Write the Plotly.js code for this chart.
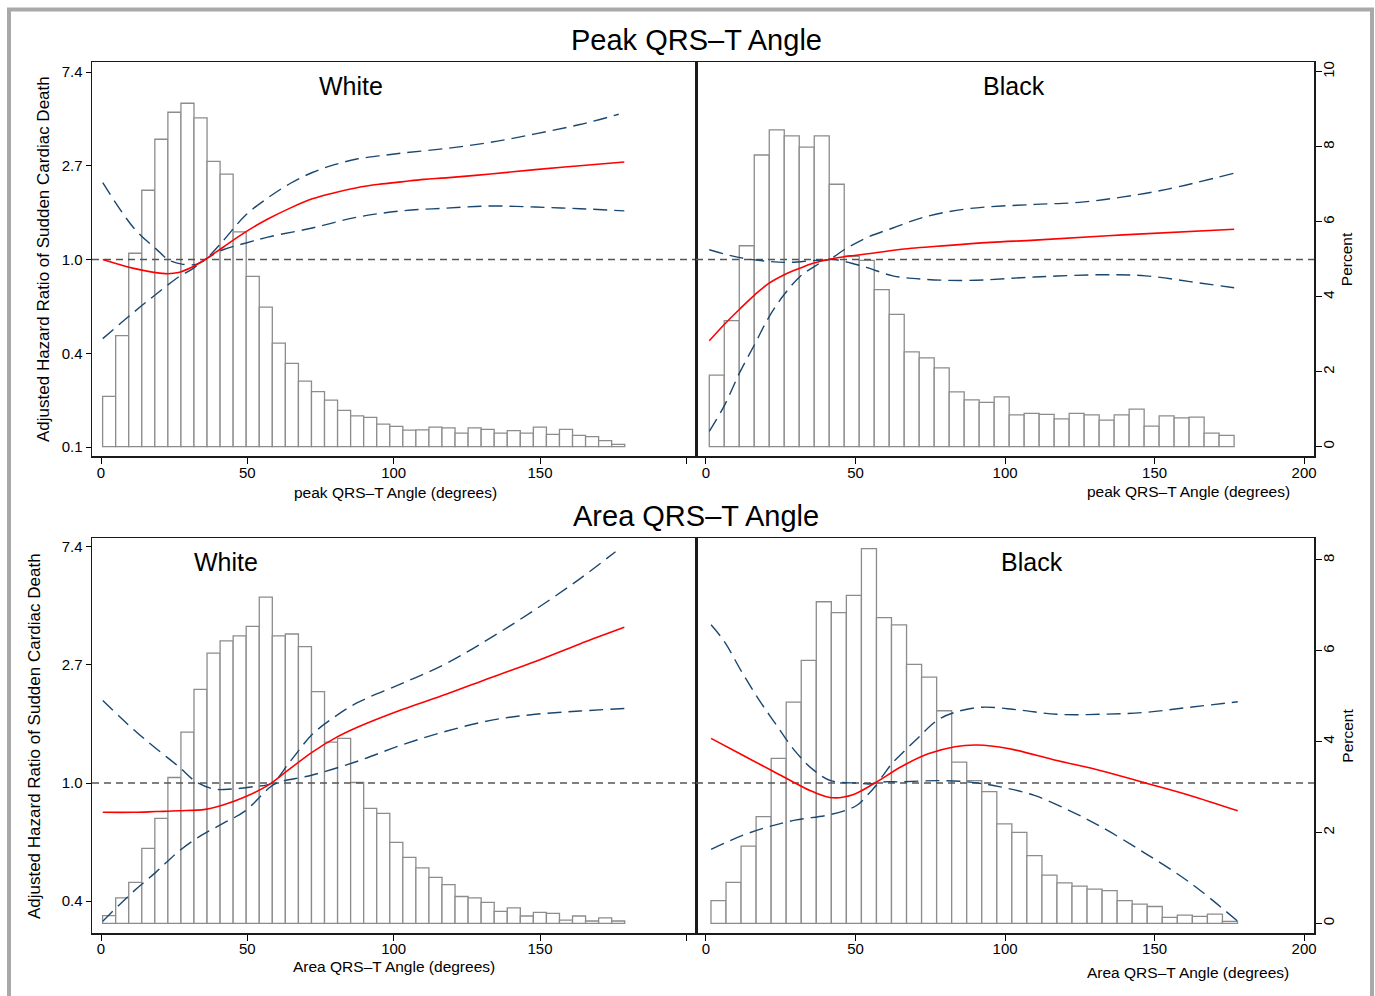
<!DOCTYPE html>
<html>
<head>
<meta charset="utf-8">
<script src="https://cdn.plot.ly/plotly-3.0.1.min.js"></script>
<style>html,body{margin:0;padding:0;background:#fff}#chart{width:1375px;height:996px}</style>
</head>
<body>
<div id="chart"></div>
<script>
// ================= DATA =================
// Hazard-ratio axis ticks (e^-2 .. e^2)
const hrTickExp = [-2, -1, 0, 1, 2];
const hrTickText = ['0.1', '0.4', '1.0', '2.7', '7.4'];
const refHR = 1;

// ---------- Peak QRS-T angle, White ----------
const peakWhiteBinStart = 0.55, peakWhiteBinWidth = 4.46;
const peakWhitePct = [1.34, 2.96, 5.16, 6.84, 8.2, 8.92, 9.16, 8.77, 7.61, 7.27,
  5.73, 4.54, 3.72, 2.76, 2.22, 1.75, 1.47, 1.24, 0.97, 0.82,
  0.78, 0.6, 0.54, 0.44, 0.45, 0.52, 0.5, 0.36, 0.5, 0.46,
  0.36, 0.43, 0.36, 0.52, 0.33, 0.46, 0.30, 0.27, 0.16, 0.06];
const peakWhiteHrX = [0.6, 11.2, 21.9, 26.5, 31, 35.6, 41.7, 49.3, 57, 64.6, 72.2, 79.8, 87.4, 95, 102.7, 110.3, 117.9, 133.1, 148.4, 163.6, 178.8];
const peakWhiteHr  = [1.00, 0.91, 0.86, 0.87, 0.92, 1.00, 1.14, 1.34, 1.54, 1.73, 1.91, 2.04, 2.15, 2.23, 2.29, 2.35, 2.39, 2.49, 2.61, 2.72, 2.83];
const peakWhiteUpX = [0.6, 11.2, 18.8, 23.4, 28, 32.5, 35.6, 41.7, 49.3, 57, 64.6, 72.2, 79.8, 87.4, 95, 102.7, 117.9, 133.1, 148.4, 163.6, 176.9];
const peakWhiteUp  = [2.27, 1.40, 1.12, 0.99, 0.95, 0.95, 1.00, 1.22, 1.60, 1.93, 2.25, 2.53, 2.75, 2.92, 3.02, 3.11, 3.27, 3.49, 3.82, 4.22, 4.71];
const peakWhiteLoX = [0.6, 11.2, 18.8, 26.5, 31, 35.6, 41.7, 49.3, 57, 72.2, 87.4, 102.7, 117.9, 133.1, 148.4, 163.6, 178.8];
const peakWhiteLo  = [0.43, 0.57, 0.69, 0.83, 0.90, 1.00, 1.11, 1.19, 1.27, 1.40, 1.57, 1.68, 1.73, 1.77, 1.75, 1.72, 1.68];

// ---------- Peak QRS-T angle, Black ----------
const peakBlackBinStart = 1.1, peakBlackBinWidth = 5.014;
const peakBlackPct = [1.91, 3.36, 5.36, 7.78, 8.45, 8.29, 7.99, 8.29, 7.0, 5.08,
  4.97, 4.19, 3.53, 2.53, 2.37, 2.1, 1.46, 1.25, 1.18, 1.33,
  0.85, 0.89, 0.86, 0.74, 0.89, 0.85, 0.71, 0.85, 1.0, 0.55,
  0.82, 0.77, 0.79, 0.36, 0.3];
const peakBlackHrX = [1.1, 6.1, 11.3, 16.5, 21, 26.2, 31.3, 35.8, 41, 46.2, 58, 65.4, 80.3, 95.1, 110, 139.5, 176.6];
const peakBlackHr  = [0.42, 0.50, 0.59, 0.69, 0.775, 0.85, 0.91, 0.96, 1.00, 1.03, 1.08, 1.115, 1.16, 1.20, 1.23, 1.30, 1.38];
const peakBlackUpX = [1.1, 11.3, 21, 28, 35.8, 41, 46.2, 53.6, 62.5, 72.8, 87.7, 110, 124.8, 139.5, 154.4, 176.6];
const peakBlackUp  = [1.11, 1.02, 0.98, 0.97, 0.99, 1.00, 1.11, 1.26, 1.40, 1.57, 1.72, 1.80, 1.84, 1.95, 2.12, 2.51];
const peakBlackLoX = [1.1, 6.1, 11.3, 16.5, 21, 26.2, 31.3, 35.8, 41, 46.2, 53.6, 62.5, 72.8, 87.7, 110, 132.2, 147, 161.8, 176.6];
const peakBlackLo  = [0.16, 0.21, 0.30, 0.41, 0.54, 0.69, 0.83, 0.92, 1.00, 0.98, 0.92, 0.84, 0.81, 0.80, 0.83, 0.85, 0.84, 0.79, 0.74];

// ---------- Area QRS-T angle, White ----------
const areaWhiteBinStart = 0.55, areaWhiteBinWidth = 4.46;
const areaWhitePct = [0.17, 0.56, 0.9, 1.65, 2.31, 3.21, 4.21, 5.15, 5.95, 6.22,
  6.33, 6.54, 7.18, 6.33, 6.37, 6.09, 5.1, 3.99, 4.07, 3.1,
  2.53, 2.42, 1.78, 1.45, 1.22, 1.01, 0.85, 0.59, 0.56, 0.46,
  0.26, 0.34, 0.16, 0.24, 0.22, 0.07, 0.16, 0.05, 0.12, 0.05];
const areaWhiteHrX = [0.6, 11.2, 18.8, 26.5, 35.6, 41.7, 49.3, 57, 64.6, 72.2, 79.8, 87.4, 102.7, 117.9, 133.1, 148.4, 163.6, 178.8];
const areaWhiteHr  = [0.78, 0.78, 0.785, 0.79, 0.80, 0.83, 0.89, 0.98, 1.13, 1.30, 1.46, 1.60, 1.86, 2.12, 2.44, 2.80, 3.25, 3.74];
const areaWhiteUpX = [0.6, 11.2, 18.8, 26.5, 32.5, 38.6, 44.7, 52.3, 58.5, 64.6, 72.2, 79.8, 87.4, 102.7, 117.9, 133.1, 148.4, 163.6, 175.8];
const areaWhiteUp  = [2.01, 1.57, 1.34, 1.15, 1.01, 0.95, 0.95, 0.97, 1.00, 1.20, 1.51, 1.75, 1.97, 2.32, 2.75, 3.42, 4.35, 5.64, 7.10];
const areaWhiteLoX = [0.6, 11.2, 18.8, 26.5, 34.1, 41.7, 49.3, 57, 60, 72.2, 87.4, 102.7, 117.9, 133.1, 148.4, 163.6, 178.8];
const areaWhiteLo  = [0.31, 0.40, 0.47, 0.56, 0.64, 0.71, 0.79, 0.95, 1.00, 1.07, 1.20, 1.38, 1.55, 1.70, 1.79, 1.84, 1.88];

// ---------- Area QRS-T angle, Black ----------
const areaBlackBinStart = 1.67, areaBlackBinWidth = 5.03;
const areaBlackPct = [0.5, 0.9, 1.7, 2.35, 3.63, 4.87, 5.79, 7.08, 6.84, 7.22,
  8.25, 6.73, 6.57, 5.7, 5.42, 4.68, 3.55, 3.14, 2.9, 2.19,
  2.0, 1.49, 1.06, 0.89, 0.82, 0.75, 0.72, 0.5, 0.42, 0.37,
  0.13, 0.18, 0.15, 0.2, 0.04];
const areaBlackHrX = [1.7, 12, 22.4, 29.8, 35.8, 42.5, 49.1, 56.5, 65.4, 74.3, 83.2, 90.6, 101, 117.3, 132.1, 147, 161.8, 177.8];
const areaBlackHr  = [1.46, 1.27, 1.105, 1.00, 0.928, 0.882, 0.905, 1.00, 1.15, 1.28, 1.36, 1.38, 1.34, 1.21, 1.11, 1.00, 0.90, 0.79];
const areaBlackUpX = [1.7, 6.1, 12, 17.9, 23.8, 29.8, 35.8, 41.7, 50.6, 56.5, 62.5, 69.9, 77.3, 83.2, 92.1, 104, 117.3, 132.1, 147, 161.8, 177.8];
const areaBlackUp  = [3.82, 3.32, 2.56, 2.01, 1.62, 1.31, 1.12, 1.02, 1.00, 1.00, 1.19, 1.43, 1.70, 1.82, 1.90, 1.86, 1.79, 1.79, 1.82, 1.90, 1.99];
const areaBlackLoX = [1.7, 12, 20.9, 29.8, 40.2, 46.2, 50.6, 55.1, 58, 65.4, 77.3, 87.6, 98, 109.8, 121.7, 132.1, 147, 161.8, 177.8];
const areaBlackLo  = [0.57, 0.64, 0.69, 0.73, 0.76, 0.79, 0.83, 0.93, 1.00, 1.01, 1.02, 1.01, 0.97, 0.90, 0.79, 0.69, 0.55, 0.43, 0.31];

const xTickVals = [0, 50, 100, 150, 200];

// ================= STYLE / LAYOUT =================
const W = 1375, H = 996;
const FONT = 'Liberation Sans, Arial, Helvetica, sans-serif';
const px = v => v / W;
const py = v => 1 - v / H;

const domLeft  = [px(92), px(696)];
const domRight = [px(696), px(1314)];
const domTop   = [py(456), py(62)];
const domBot   = [py(933), py(538)];

const xRangeL = [-3.08, 203.3];
const xRangeR = [-3.34, 203.3];
const pctRangeTop = [-0.248, 10.26];
const pctRangeBot = [-0.214, 8.484];
const lnTop = [-2.096, 2.107];
const lnBot = [-1.271, 2.076];
const log10Range = r => r.map(v => v / Math.LN10);

const barStyle = {color: '#ffffff', line: {color: '#8c8c8c', width: 1.3}};
const redLine = {color: '#ff0000', width: 1.6, shape: 'spline', smoothing: 1};
const ciLine  = {color: '#1a476f', width: 1.4, dash: '14px,7px', shape: 'spline', smoothing: 1};
const refLine = {color: '#555555', width: 1.6, dash: '7px,5px'};

function centers(start, width, n) {
  return Array.from({length: n}, (_, i) => start + width * (i + 0.5));
}

function panelTraces(xa, ya_pct, ya_hr, xr, bs, bw, pct, hrX, hr, upX, up, loX, lo) {
  return [
    {type: 'bar', x: centers(bs, bw, pct.length), y: pct, width: bw, xaxis: xa, yaxis: ya_pct,
     marker: barStyle, hoverinfo: 'skip'},
    {type: 'scatter', mode: 'lines', x: xr, y: [refHR, refHR], xaxis: xa, yaxis: ya_hr, line: refLine, hoverinfo: 'skip'},
    {type: 'scatter', mode: 'lines', x: upX, y: up, xaxis: xa, yaxis: ya_hr, line: ciLine},
    {type: 'scatter', mode: 'lines', x: loX, y: lo, xaxis: xa, yaxis: ya_hr, line: ciLine},
    {type: 'scatter', mode: 'lines', x: hrX, y: hr, xaxis: xa, yaxis: ya_hr, line: redLine}
  ];
}

const traces = [].concat(
  panelTraces('x',  'y',  'y2', xRangeL, peakWhiteBinStart, peakWhiteBinWidth, peakWhitePct,
              peakWhiteHrX, peakWhiteHr, peakWhiteUpX, peakWhiteUp, peakWhiteLoX, peakWhiteLo),
  panelTraces('x2', 'y3', 'y4', xRangeR, peakBlackBinStart, peakBlackBinWidth, peakBlackPct,
              peakBlackHrX, peakBlackHr, peakBlackUpX, peakBlackUp, peakBlackLoX, peakBlackLo),
  panelTraces('x3', 'y5', 'y6', xRangeL, areaWhiteBinStart, areaWhiteBinWidth, areaWhitePct,
              areaWhiteHrX, areaWhiteHr, areaWhiteUpX, areaWhiteUp, areaWhiteLoX, areaWhiteLo),
  panelTraces('x4', 'y7', 'y8', xRangeR, areaBlackBinStart, areaBlackBinWidth, areaBlackPct,
              areaBlackHrX, areaBlackHr, areaBlackUpX, areaBlackUp, areaBlackLoX, areaBlackLo)
);

const tickFont = {family: FONT, size: 15, color: '#000'};
const boxLine = {showline: true, linecolor: '#1a1a1a', linewidth: 1.5, mirror: true,
                 showgrid: false, zeroline: false};

function xAxis(dom, range, anchor, labels, standoff) {
  return Object.assign({domain: dom, range: range, anchor: anchor,
    tickmode: 'array', tickvals: xTickVals, ticktext: labels,
    ticks: 'outside', ticklen: 6, tickwidth: 1, tickcolor: '#000', tickfont: tickFont,
    ticklabelstandoff: standoff}, boxLine);
}
function hiddenAxis(dom, range, anchor, extra) {
  return Object.assign({domain: dom, range: range, anchor: anchor, visible: false,
    showgrid: false, zeroline: false}, extra || {});
}
function hrAxis(dom, lnRange, anchor, over) {
  return Object.assign({domain: dom, type: 'log', range: log10Range(lnRange), anchor: anchor,
    overlaying: over, side: 'left', tickmode: 'array',
    tickvals: hrTickExp.map(Math.exp), ticktext: hrTickText,
    ticks: 'outside', ticklen: 5, tickwidth: 1, tickcolor: '#000', tickfont: tickFont}, boxLine);
}
function pctAxis(dom, range, anchor, tv) {
  return Object.assign({domain: dom, range: range, anchor: anchor, side: 'right',
    tickmode: 'array', tickvals: tv, tickangle: -90, ticklabelstandoff: -6,
    ticks: 'outside', ticklen: 6, tickwidth: 1, tickcolor: '#000', tickfont: tickFont}, boxLine);
}

const layout = {
  width: W, height: H, autosize: false,
  margin: {l: 0, r: 0, t: 0, b: 0, pad: 0},
  paper_bgcolor: '#ffffff', plot_bgcolor: 'rgba(0,0,0,0)',
  showlegend: false, font: {family: FONT, color: '#000'},
  xaxis:  xAxis(domLeft,  xRangeL, 'y',  ['0', '50', '100', '150', ''], -4),
  yaxis:  hiddenAxis(domTop, pctRangeTop, 'x'),
  yaxis2: hrAxis(domTop, lnTop, 'x', 'y'),
  xaxis2: xAxis(domRight, xRangeR, 'y3', ['0', '50', '100', '150', '200'], -4),
  yaxis3: pctAxis(domTop, pctRangeTop, 'x2', [0, 2, 4, 6, 8, 10]),
  yaxis4: hiddenAxis(domTop, log10Range(lnTop), 'x2', {type: 'log', overlaying: 'y3'}),
  xaxis3: xAxis(domLeft,  xRangeL, 'y5', ['0', '50', '100', '150', ''], -5),
  yaxis5: hiddenAxis(domBot, pctRangeBot, 'x3'),
  yaxis6: hrAxis(domBot, lnBot, 'x3', 'y5'),
  xaxis4: xAxis(domRight, xRangeR, 'y7', ['0', '50', '100', '150', '200'], -5),
  yaxis7: pctAxis(domBot, pctRangeBot, 'x4', [0, 2, 4, 6, 8]),
  yaxis8: hiddenAxis(domBot, log10Range(lnBot), 'x4', {type: 'log', overlaying: 'y7'}),
  shapes: [
    {type: 'rect', xref: 'paper', yref: 'paper', x0: px(9), x1: px(1372), y0: -0.05, y1: py(9.5),
     line: {color: '#a9a9a9', width: 4}, fillcolor: 'rgba(0,0,0,0)', layer: 'below'}
  ],
  annotations: []
};

function ann(text, x, y, size, opts) {
  layout.annotations.push(Object.assign({text: text, xref: 'paper', yref: 'paper',
    x: px(x), y: py(y), showarrow: false, xanchor: 'center', yanchor: 'middle',
    font: {family: FONT, size: size, color: '#000'}}, opts || {}));
}
ann('Peak QRS\u2013T Angle', 696, 40, 29);
ann('Area QRS\u2013T Angle', 696, 516, 29);
ann('White', 351, 86, 25);
ann('Black', 1014, 86, 25);
ann('White', 226, 562, 25);
ann('Black', 1032, 562, 25);
ann('peak QRS\u2013T Angle (degrees)', 395, 493, 15.5);
ann('peak QRS\u2013T Angle (degrees)', 1292, 491, 15.5, {xanchor: 'right'});
ann('Area QRS\u2013T Angle (degrees)', 393.5, 966, 15.5);
ann('Area QRS\u2013T Angle (degrees)', 1291, 972, 15.5, {xanchor: 'right'});
ann('Adjusted Hazard Ratio of Sudden Cardiac Death', 43.5, 259.5, 17, {textangle: -90});
ann('Adjusted Hazard Ratio of Sudden Cardiac Death', 34.6, 736.5, 17, {textangle: -90});
ann('Percent', 1346.7, 259.5, 15.5, {textangle: -90});
ann('Percent', 1346.7, 736, 15.5, {textangle: -90});

Plotly.newPlot('chart', traces, layout, {staticPlot: true, displayModeBar: false});
</script>
</body>
</html>
